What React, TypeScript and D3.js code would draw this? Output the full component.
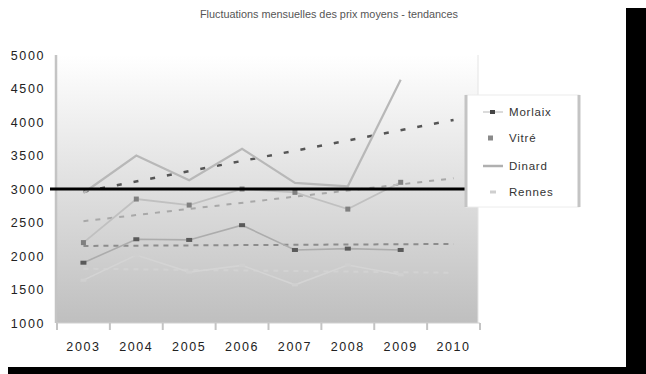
import React from 'react';
import * as d3 from 'd3';

const years = ['2003', '2004', '2005', '2006', '2007', '2008', '2009', '2010'];
const yTicks = [1000, 1500, 2000, 2500, 3000, 3500, 4000, 4500, 5000];
const seriesNames = ['Morlaix', 'Vitré', 'Dinard', 'Rennes'];
const s1 = [2940, 3500, 3130, 3600, 3090, 3040, 4630, null];
const s2 = [1900, 2250, 2240, 2460, 2090, 2110, 2090, null];
const s3 = [2200, 2850, 2760, 3000, 2950, 2700, 3100, null];
const s4 = [1640, 2015, 1760, 1860, 1570, 1865, 1720, null];
// trend line values read at 2003 and 2010
const t1 = [2960, 4030];
const t2 = [2150, 2180];
const t3 = [2520, 3160];
const t4 = [1810, 1750];
const refValue = 3000;
const title = 'Fluctuations mensuelles des prix moyens - tendances';

export default function App() {
  const W = 646, H = 374;
  const x = d3.scaleBand<string>().domain(years).range([57, 480]);
  const y = d3.scaleLinear().domain([1000, 5000]).range([323, 55]);
  const cx = (i: number) => (x(years[i]) as number) + x.bandwidth() / 2;
  const line = d3.line<number | null>()
    .defined(d => d !== null)
    .x((_, i) => cx(i))
    .y(d => y(d as number));
  const trend = (t: number[]) => `M${cx(0)},${y(t[0])}L${cx(years.length - 1)},${y(t[1])}`;
  const font = 'Liberation Sans, Arial, sans-serif';

  const markers = (vals: (number | null)[], w: number, h: number, color: string) =>
    vals.map((v, i) => v === null ? null : (
      <rect key={i} x={cx(i) - w / 2} y={y(v) - h / 2} width={w} height={h} fill={color} />
    ));

  return (
    <svg width={W} height={H} style={{ position: 'absolute', left: 0, top: 0, background: '#fff' }}>
      <defs>
        <linearGradient id="bg" x1="0" y1="0" x2="0" y2="1">
          <stop offset="0" stopColor="#ffffff" />
          <stop offset="1" stopColor="#bfbfbf" />
        </linearGradient>
      </defs>
      <rect x={0} y={0} width={W} height={H} fill="#fff" />
      {/* frame shadow */}
      <rect x={626} y={8} width={20} height={366} fill="#000" />
      <rect x={8} y={367} width={638} height={7} fill="#000" />

      <text x={200} y={18} fontFamily={font} fontSize={10.5} fill="#555" textLength={258} lengthAdjust="spacingAndGlyphs">{title}</text>

      {/* plot area */}
      <rect x={57} y={55} width={421} height={268} fill="url(#bg)" />
      <line x1={478} y1={55} x2={478} y2={323} stroke="#e4e4e4" strokeWidth={1} />
      <line x1={56} y1={55} x2={56} y2={323} stroke="#c4c4c4" strokeWidth={2.5} />
      <line x1={57} y1={323} x2={480} y2={323} stroke="#d0d0d0" strokeWidth={1} />
      {d3.range(years.length + 1).map(i => {
        const xx = 57 + i * x.bandwidth();
        return <line key={i} x1={xx} y1={323} x2={xx} y2={330} stroke="#c4c4c4" strokeWidth={2} />;
      })}
      {yTicks.map(t => (
        <text key={t} x={45} y={y(t) + 4.5} textAnchor="end" fontFamily={font} fontSize={12.5} letterSpacing={1.6} fill="#222">{t}</text>
      ))}
      {years.map((yr, i) => (
        <text key={yr} x={cx(i)} y={351} textAnchor="middle" fontFamily={font} fontSize={12.5} letterSpacing={1.6} fill="#222">{yr}</text>
      ))}

      {/* trend lines */}
      <path d={trend(t4)} stroke="#d2d2d2" strokeWidth={2} strokeDasharray="5,5" fill="none" />
      <path d={trend(t2)} stroke="#8c8c8c" strokeWidth={2} strokeDasharray="5,5" fill="none" />
      <path d={trend(t3)} stroke="#a8a8a8" strokeWidth={2} strokeDasharray="5,7" fill="none" />
      <path d={trend(t1)} stroke="#555" strokeWidth={2.5} strokeDasharray="5,12" fill="none" />

      {/* series */}
      <path d={line(s4) || ''} stroke="#d4d4d4" strokeWidth={1.6} fill="none" />
      {markers(s4, 6, 3, '#d0d0d0')}
      <path d={line(s2) || ''} stroke="#acacac" strokeWidth={1.6} fill="none" />
      {markers(s2, 6, 4, '#5a5a5a')}
      <path d={line(s3) || ''} stroke="#c0c0c0" strokeWidth={1.8} fill="none" />
      {markers(s3, 5, 5, '#808080')}
      <path d={line(s1) || ''} stroke="#b8b8b8" strokeWidth={2.2} fill="none" />

      {/* reference line */}
      <line x1={50} y1={y(refValue)} x2={467} y2={y(refValue)} stroke="#000" strokeWidth={3} />

      {/* legend */}
      <rect x={466} y={95} width={113} height={112} fill="#fff" stroke="#ececec" strokeWidth={1} />
      <line x1={466} y1={95} x2={466} y2={207} stroke="#c4c4c4" strokeWidth={3} />
      <line x1={579} y1={95} x2={579} y2={207} stroke="#c4c4c4" strokeWidth={3} />
      {seriesNames.map((n, i) => {
        const ly = [112, 138, 166, 192][i];
        return (
          <g key={n}>
            {i === 0 && <>
              <line x1={483} y1={ly} x2={503} y2={ly} stroke="#cfcfcf" strokeWidth={1.5} />
              <rect x={490} y={ly - 2} width={5} height={4} fill="#444" />
            </>}
            {i === 1 && <rect x={488} y={ly - 2.5} width={5} height={5} fill="#8a8a8a" />}
            {i === 2 && <line x1={483} y1={ly} x2={503} y2={ly} stroke="#b0b0b0" strokeWidth={2.5} />}
            {i === 3 && <rect x={490} y={ly - 1.5} width={6} height={3} fill="#cfcfcf" />}
            <text x={509} y={ly + 4} fontFamily={font} fontSize={11.5} letterSpacing={0.8} fill="#333">{n}</text>
          </g>
        );
      })}
    </svg>
  );
}
